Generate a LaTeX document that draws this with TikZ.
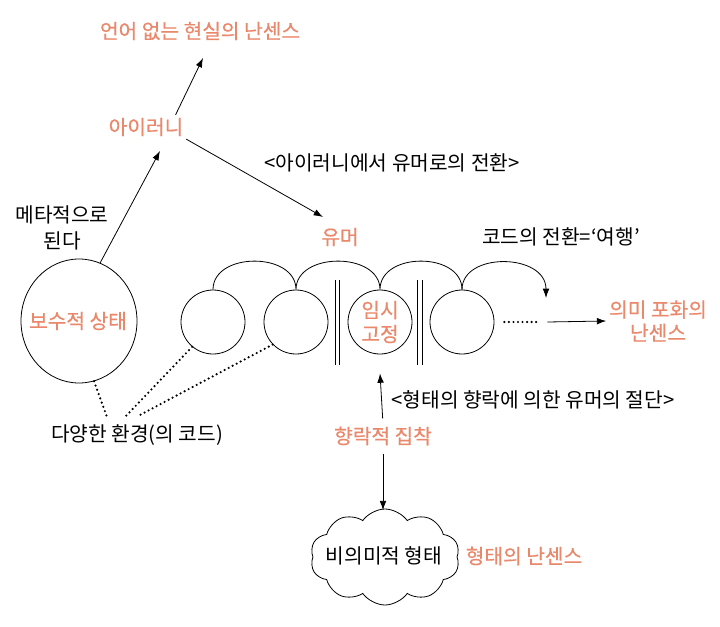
\documentclass[tikz,border=0pt]{standalone}
\usepackage{fontspec}
\setmainfont{Noto Sans CJK KR}
\newfontfamily\hotfont{Noto Sans CJK KR}[FakeBold=0.5]
\usepackage{tikz}
\usetikzlibrary{shapes,shapes.geometric}
\usetikzlibrary{calc}
\usetikzlibrary{arrows.meta}
\definecolor{salmon}{RGB}{234,136,108}
\tikzset{
	hangul/.style={font=\fontsize{15.2}{19.5}\selectfont, align=center, inner sep=2pt},
	hotword/.style={hangul, font=\fontsize{15.2}{19.5}\hotfont, text=salmon},
	bubble/.style={circle, draw, line width=0.6pt, minimum size=48pt, inner sep=0pt},
	dotline/.style={line width=1.8pt, line cap=round, dash pattern=on 0pt off 3.4pt},
	arr/.style={line width=0.6pt, -{Latex[length=7pt,width=5pt]}}
}

\begin{document}
\begin{tikzpicture}[x=0.75pt,y=-0.75pt]
	\useasboundingbox (0,0) rectangle (720,627);
	% labels
	\node[hotword] (realNonsense) at (200,31) {언어 없는 현실의 난센스};
	\node[hotword] (irony) at (146,127) {아이러니};
	\node[hangul] (meta) at (62,228) {메타적으로\\된다};
	\node[hangul] (toHumor) at (392,163) {<아이러니에서 유머로의 전환>};
	\node[hotword] (humor) at (340,237) {유머};
	\node[hangul] (codeTrans) at (561,237) {코드의 전환=‘여행’};
	\node[hangul] (env) at (137,435) {다양한 환경(의 코드)};
	\node[hangul] (cut) at (533,400) {<형태의 향락에 의한 유머의 절단>};
	\node[hotword] (enjoy) at (383,436) {향락적 집착};
	\node[hotword, font=\fontsize{15.2}{17.5}\hotfont] (satur) at (658,321) {의미 포화의\\난센스};
	\node[hotword] (formNonsense) at (524,556) {형태의 난센스};
	% states
	\node[ellipse, draw, line width=0.6pt, minimum width=87pt, minimum height=93pt, inner sep=0pt] (conserv) at (79,321) {};
	\node[hotword] (conservText) at (78,321) {보수적 상태};
	\node[bubble] (c1) at (213,322) {};
	\node[bubble] (c2) at (296,322) {};
	\node[bubble, hotword, inner sep=0pt, font=\fontsize{15.2}{18}\hotfont] (c3) at (380,322) {임시\\고정};
	\node[bubble] (c4) at (462,322) {};
	\node[cloud, draw, line width=0.6pt, cloud puffs=10, cloud puff arc=110, aspect=1.39, minimum width=112pt, minimum height=72pt, inner sep=0pt] (form) at (385,557) {};
	\node[hangul] (formText) at (384,556) {비의미적 형태};
	\coordinate (realTip) at (203,58);
	\coordinate (ironyIn) at (160,151);
	\coordinate (humorIn) at (323,217);
	\coordinate (codeTip) at (546,298);
	% connectors
	\draw[arr] ([xshift=-8pt]irony.north east) -- (realTip);
	\draw[arr] (conserv.70) -- (ironyIn);
	\draw[arr] (irony.south east) -- (humorIn);
	\draw[line width=0.6pt] (c1.north) .. controls +(0,-38) and +(0,-38) .. (c2.north)
		.. controls +(0,-38) and +(0,-38) .. (c3.north)
		.. controls +(0,-38) and +(0,-38) .. (c4.north);
	\draw[arr] (c4.north) .. controls +(0,-38) and +(0,-45) .. (codeTip);
	\draw[line width=0.6pt] (335,280) -- (335,365) (339,280) -- (339,365);
	\draw[line width=0.6pt] (417,280) -- (417,365) (422,280) -- (422,365);
	\draw[dotline] ($(c4.east)+(10,0)$) -- ++(34,0);
	\draw[arr] ($(c4.east)+(53,0)$) -- (satur.west);
	\draw[dotline] (conserv.-76) -- ($(env)+(-30,-18)$);
	\draw[dotline] (c1.-130) -- ($(env)+(-12,-18)$);
	\draw[dotline] (c2.-136) -- ($(env)+(3,-20)$);
	\draw[arr, shorten <=4pt] (enjoy.north) -- ($(c3.south)+(0,19)$);
	\draw[arr, shorten <=4pt] (enjoy.south) -- ($(enjoy.south)+(0,62)$);
\end{tikzpicture}
\end{document}
